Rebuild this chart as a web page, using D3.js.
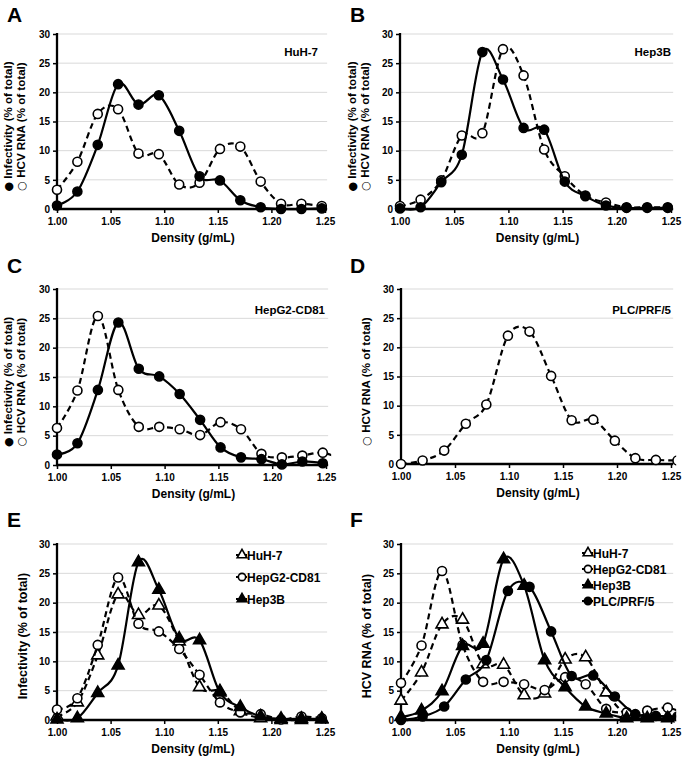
<!DOCTYPE html>
<html><head><meta charset="utf-8">
<script src="https://cdn.jsdelivr.net/npm/d3@7"></script>
<style>
body{margin:0;background:#fff}
text{font-family:"Liberation Sans",Arial,sans-serif;font-weight:bold;fill:#000}
</style>
</head><body>
<svg id="chart" width="686" height="758"></svg>
<script>
// ---------- DATA ----------
const densities = [1.000,1.019,1.038,1.057,1.076,1.095,1.114,1.133,1.152,1.171,1.190,1.209,1.228,1.247,1.266];
const densitiesPLC = [1.000,1.020,1.040,1.060,1.079,1.099,1.119,1.139,1.158,1.178,1.198,1.217,1.236,1.256];

const huh7Infectivity  = [0.6,3.0,11.0,21.4,17.9,19.5,13.4,5.6,4.9,1.5,0.3,0.0,0.0,0.1];
const huh7Rna          = [3.3,8.1,16.3,17.1,9.5,9.4,4.2,4.5,10.3,10.7,4.7,0.9,0.9,0.5];
const hep3bInfectivity = [0.1,0.3,4.6,9.3,26.9,22.2,13.9,13.6,4.7,2.2,0.6,0.2,0.2,0.2];
const hep3bRna         = [0.5,1.6,4.9,12.6,13.0,27.4,22.9,10.2,5.6,2.3,1.1,0.3,0.3,0.3];
const hepg2Infectivity = [1.8,3.7,12.8,24.3,16.4,15.1,12.1,7.7,3.0,1.3,1.0,0.1,0.6,0.3];
const hepg2Rna         = [6.3,12.7,25.4,12.8,6.5,6.5,6.1,5.1,7.3,6.1,1.9,1.3,1.6,2.1,0.8];
const plcRna           = [0.0,0.6,2.3,6.9,10.2,22.0,22.7,15.1,7.5,7.6,4.0,1.0,0.7,0.6];

const xTicks = [1.00,1.05,1.10,1.15,1.20,1.25];
const yTicks = [0,5,10,15,20,25,30];
const xTitle = "Density (g/mL)";

// ---------- LAYOUT ----------
const panels = [
  {letter:"A", lx:7, ly:22, x0:57, x1:325, y0:34, y1:209,
   label:"HuH-7", labelX:318, labelY:56,
   titles:[["●"," Infectivity (% of total)"],["○"," HCV RNA (% of total)"]], titleOff:[-45,-32],
   series:[
     {name:"HuH-7", x:densities, y:huh7Rna, shape:"circle", filled:false, dashed:true},
     {name:"HuH-7", x:densities, y:huh7Infectivity, shape:"circle", filled:true, dashed:false}]},
  {letter:"B", lx:350, ly:22, x0:400, x1:671, y0:34, y1:209,
   label:"Hep3B", labelX:671, labelY:56,
   titles:[["●"," Infectivity (% of total)"],["○"," HCV RNA (% of total)"]], titleOff:[-44,-31],
   series:[
     {name:"Hep3B", x:densities, y:hep3bRna, shape:"circle", filled:false, dashed:true},
     {name:"Hep3B", x:densities, y:hep3bInfectivity, shape:"circle", filled:true, dashed:false}]},
  {letter:"C", lx:7, ly:273, x0:57, x1:326, y0:289, y1:465,
   label:"HepG2-CD81", labelX:325, labelY:314,
   titles:[["●"," Infectivity (% of total)"],["○"," HCV RNA (% of total)"]], titleOff:[-45,-32],
   series:[
     {name:"HepG2-CD81", x:densities, y:hepg2Rna, shape:"circle", filled:false, dashed:true},
     {name:"HepG2-CD81", x:densities, y:hepg2Infectivity, shape:"circle", filled:true, dashed:false}]},
  {letter:"D", lx:350, ly:273, x0:401, x1:671, y0:289, y1:464,
   label:"PLC/PRF/5", labelX:671, labelY:314,
   titles:[["○"," HCV RNA (% of total)"]], titleOff:[-31],
   series:[
     {name:"PLC/PRF/5", x:densitiesPLC, y:plcRna, shape:"circle", filled:false, dashed:true}]},
  {letter:"E", lx:7, ly:527, x0:57, x1:325, y0:544, y1:720,
   titles:[["","Infectivity (% of total)"]], titleOff:[-30],
   legend:{x:242, y:555, dy:22},
   series:[
     {name:"HuH-7", x:densities, y:huh7Infectivity, shape:"triangle", filled:false, dashed:true},
     {name:"HepG2-CD81", x:densities, y:hepg2Infectivity, shape:"circle", filled:false, dashed:true},
     {name:"Hep3B", x:densities, y:hep3bInfectivity, shape:"triangle", filled:true, dashed:false}]},
  {letter:"F", lx:350, ly:527, x0:401, x1:671, y0:544, y1:720,
   titles:[["","HCV RNA (% of total)"]], titleOff:[-30],
   legend:{x:588, y:553, dy:16},
   series:[
     {name:"HuH-7", x:densities, y:huh7Rna, shape:"triangle", filled:false, dashed:true},
     {name:"HepG2-CD81", x:densities, y:hepg2Rna, shape:"circle", filled:false, dashed:true},
     {name:"Hep3B", x:densities, y:hep3bRna, shape:"triangle", filled:true, dashed:false},
     {name:"PLC/PRF/5", x:densitiesPLC, y:plcRna, shape:"circle", filled:true, dashed:false}]}
];

const svg = d3.select("#chart");
const defs = svg.append("defs");

function marker(sel, shape, filled, scale) {
  const sz = shape === "triangle" ? 62*scale : 64*scale;
  sel.attr("d", d3.symbol().type(shape === "triangle" ? d3.symbolTriangle : d3.symbolCircle).size(sz)())
     .attr("fill", filled ? "#000" : "#fff")
     .attr("stroke", "#000")
     .attr("stroke-width", 1.6);
}

panels.forEach((p, i) => {
  const g = svg.append("g");
  const x = d3.scaleLinear().domain([1.0, 1.25]).range([p.x0, p.x1]);
  const y = d3.scaleLinear().domain([0, 30]).range([p.y1, p.y0]);
  const xEnd = x(1.252);

  // panel letter
  g.append("text").attr("x", p.lx).attr("y", p.ly).attr("font-size", 21).text(p.letter);

  // gridlines
  g.append("g").selectAll("line").data(yTicks.filter(t => t > 0)).join("line")
    .attr("x1", p.x0).attr("x2", xEnd)
    .attr("y1", d => y(d)).attr("y2", d => y(d))
    .attr("stroke", "#d9d9d9").attr("stroke-width", 1);

  // axes
  const ya = g.append("g").attr("transform", `translate(${p.x0},0)`)
    .call(d3.axisLeft(y).tickValues(yTicks).tickFormat(d3.format("d")).tickSize(4).tickPadding(3));
  ya.select(".domain").remove();
  ya.selectAll("text").attr("font-size", 10).attr("font-family", null);
  ya.selectAll("line").attr("stroke-width", 1.5);

  const xa = g.append("g").attr("transform", `translate(0,${p.y1})`)
    .call(d3.axisBottom(x).tickValues(xTicks).tickFormat(d3.format(".2f")).tickSize(4).tickPadding(5));
  xa.select(".domain").remove();
  xa.selectAll("text").attr("font-size", 10).attr("font-family", null);
  xa.selectAll("line").attr("stroke-width", 1.5);

  g.append("line").attr("x1", p.x0).attr("x2", p.x0).attr("y1", p.y0 - 1).attr("y2", p.y1 + 1)
    .attr("stroke", "#000").attr("stroke-width", 2.3);
  g.append("line").attr("x1", p.x0 - 1).attr("x2", xEnd).attr("y1", p.y1).attr("y2", p.y1)
    .attr("stroke", "#000").attr("stroke-width", 2.3);

  // axis titles
  g.append("text").attr("x", (p.x0 + p.x1) / 2 + 2).attr("y", p.y1 + 33)
    .attr("text-anchor", "middle").attr("font-size", 12).text(xTitle);
  p.titles.forEach((t, k) => {
    const tx = p.x0 + p.titleOff[k], ty = (p.y0 + p.y1) / 2 + (t[0] ? 5 : 4);
    const tt = g.append("text").attr("transform", `translate(${tx},${ty}) rotate(-90)`)
      .attr("text-anchor", "middle").attr("font-size", t[0] ? 11.6 : 12.5);
    if (t[0]) tt.append("tspan").attr("font-size", 11).attr("font-family", "DejaVu Sans").text(t[0]);
    tt.append("tspan").text(t[1]);
  });

  // cell line label
  if (p.label) {
    g.append("text").attr("x", p.labelX).attr("y", p.labelY)
      .attr("text-anchor", "end").attr("font-size", 11.5).text(p.label);
  }

  // clip
  const cid = "clip" + i;
  defs.append("clipPath").attr("id", cid).append("rect")
    .attr("x", p.x0 - 8).attr("y", p.y0 - 10).attr("width", xEnd - p.x0 + 11).attr("height", p.y1 - p.y0 + 20);
  const plot = g.append("g").attr("clip-path", `url(#${cid})`);

  const line = d3.line().x(d => x(d[0])).y(d => y(d[1])).curve(d3.curveCardinal.tension(0));
  p.series.forEach(s => {
    const pts = s.y.map((v, j) => [s.x[j], v]);
    plot.append("path").attr("d", line(pts)).attr("fill", "none")
      .attr("stroke", "#000").attr("stroke-width", 2.2)
      .attr("stroke-dasharray", s.dashed ? "6,4" : null);
    plot.append("g").selectAll("path").data(pts).join("path")
      .attr("transform", d => `translate(${x(d[0])},${y(d[1])})`)
      .call(marker, s.shape, s.filled, 1);
  });

  // legend
  if (p.legend) {
    p.series.forEach((s, k) => {
      const ly = p.legend.y + k * p.legend.dy;
      g.append("line").attr("x1", p.legend.x - 6).attr("x2", p.legend.x + 5)
        .attr("y1", ly).attr("y2", ly).attr("stroke", "#000").attr("stroke-width", 2);
      g.append("path").attr("transform", `translate(${p.legend.x},${ly})`).call(marker, s.shape, s.filled, 0.65);
      g.append("text").attr("x", p.legend.x + 5).attr("y", ly + 4.5).attr("font-size", 12).text(s.name);
    });
  }
});
</script>
</body></html>
